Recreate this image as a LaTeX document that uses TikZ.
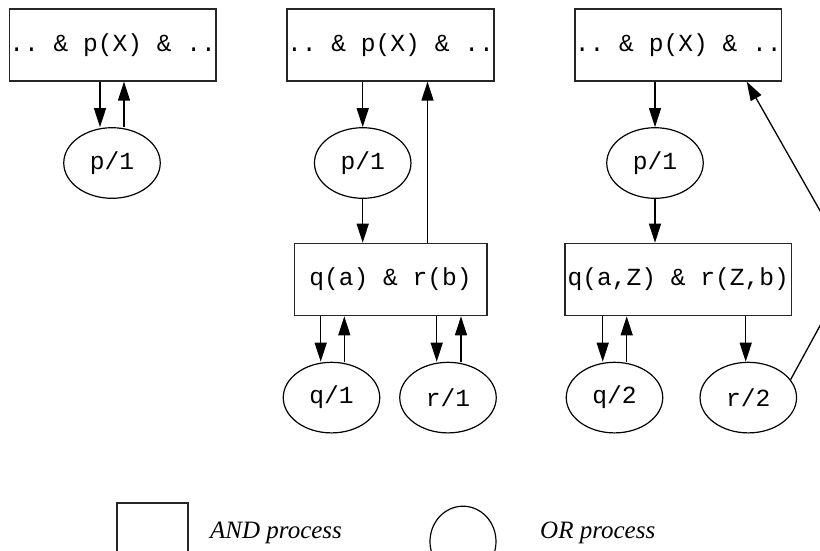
\documentclass[tikz,border=0pt]{standalone}
\usepackage{fontspec}
\setmainfont{Liberation Serif}
\setmonofont{Liberation Mono}
\usetikzlibrary{arrows.meta,shapes.geometric,calc}
\begin{document}
\begin{tikzpicture}[x=1pt,y=-1pt,
  andbox/.style={draw=black!85, line width=1.6pt, rectangle, minimum height=72pt, inner sep=0pt,
    font=\fontsize{24.6}{28}\selectfont\ttfamily},
  orproc/.style={draw, line width=1.2pt, ellipse, minimum width=96.5pt, minimum height=70.6pt, inner sep=0pt,
    font=\fontsize{24.6}{28}\selectfont\ttfamily},
  conn/.style={line width=1.3pt, -{Triangle[length=19pt,width=12pt]}},
  legtext/.style={font=\fontsize{25}{30}\selectfont\itshape, anchor=west, inner sep=0pt}]
\useasboundingbox (0,0) rectangle (820,550);
\clip (0,0) rectangle (820,550);

% column 1
\node[andbox, minimum width=200pt] (b1) at (112.7,44.8) {.. \& p(X) \& ..};
\node[orproc] (e1) at (112,163) {p/1};
\draw[conn] ([xshift=-12.7pt]b1.south) -- ([xshift=-12pt]e1.north);
\draw[conn] ([xshift=12pt]e1.north) -- ([xshift=11.3pt]b1.south);

% column 2
\node[andbox, minimum width=201pt] (b2) at (390.5,44.8) {.. \& p(X) \& ..};
\node[orproc] (e2) at (362.7,163) {p/1};
\node[andbox, minimum width=192.4pt] (c2) at (390.5,279.5) {q(a) \& r(b)};
\node[orproc] (q1) at (331.5,397.6) {q/1};
\node[orproc] (r1) at (448,397.6) {r/1};
\draw[conn] ([xshift=-27.8pt]b2.south) -- (e2.north);
\draw[conn] (e2.south) -- ([xshift=-27.8pt]c2.north);
\draw[conn] ([xshift=37pt]c2.north) -- ([xshift=37pt]b2.south);
\draw[conn] ([xshift=-69.8pt]c2.south) -- ([xshift=-10.8pt]q1.north);
\draw[conn] ([xshift=12.8pt]q1.north) -- ([xshift=-46.2pt]c2.south);
\draw[conn] ([xshift=46.2pt]c2.south) -- ([xshift=-11.3pt]r1.north);
\draw[conn] ([xshift=13pt]r1.north) -- ([xshift=70.5pt]c2.south);

% column 3
\node[andbox, minimum width=200pt] (b3) at (678.3,44.8) {.. \& p(X) \& ..};
\node[orproc] (e3) at (655,163) {p/1};
\node[andbox, minimum width=226.7pt] (c3) at (678.3,279.5) {q(a,Z) \& r(Z,b)};
\node[orproc] (q2) at (614.5,397.6) {q/2};
\node[orproc] (r2) at (748.3,397.6) {r/2};
\draw[conn] ([xshift=-23.3pt]b3.south) -- (e3.north);
\draw[conn] (e3.south) -- ([xshift=-23.3pt]c3.north);
\draw[conn] ([xshift=-75.6pt]c3.south) -- ([xshift=-11.8pt]q2.north);
\draw[conn] ([xshift=12.2pt]q2.north) -- ([xshift=-51.6pt]c3.south);
\draw[conn] ([xshift=67.4pt]c3.south) -- ([xshift=-2.6pt]r2.north);
\coordinate (bend) at (852,267);
\draw[conn, rounded corners=60pt] (r2.23) -- (bend) -- ([xshift=68.4pt]b3.south);

% legend
\node[andbox, minimum width=71pt] (la) at (152.5,539) {};
\node[legtext] (lat) at (210,533) {AND process};
\node[orproc, minimum width=66pt] (lo) at (463,541.5) {};
\node[legtext] (lot) at (540,533) {OR process};
\end{tikzpicture}
\end{document}
